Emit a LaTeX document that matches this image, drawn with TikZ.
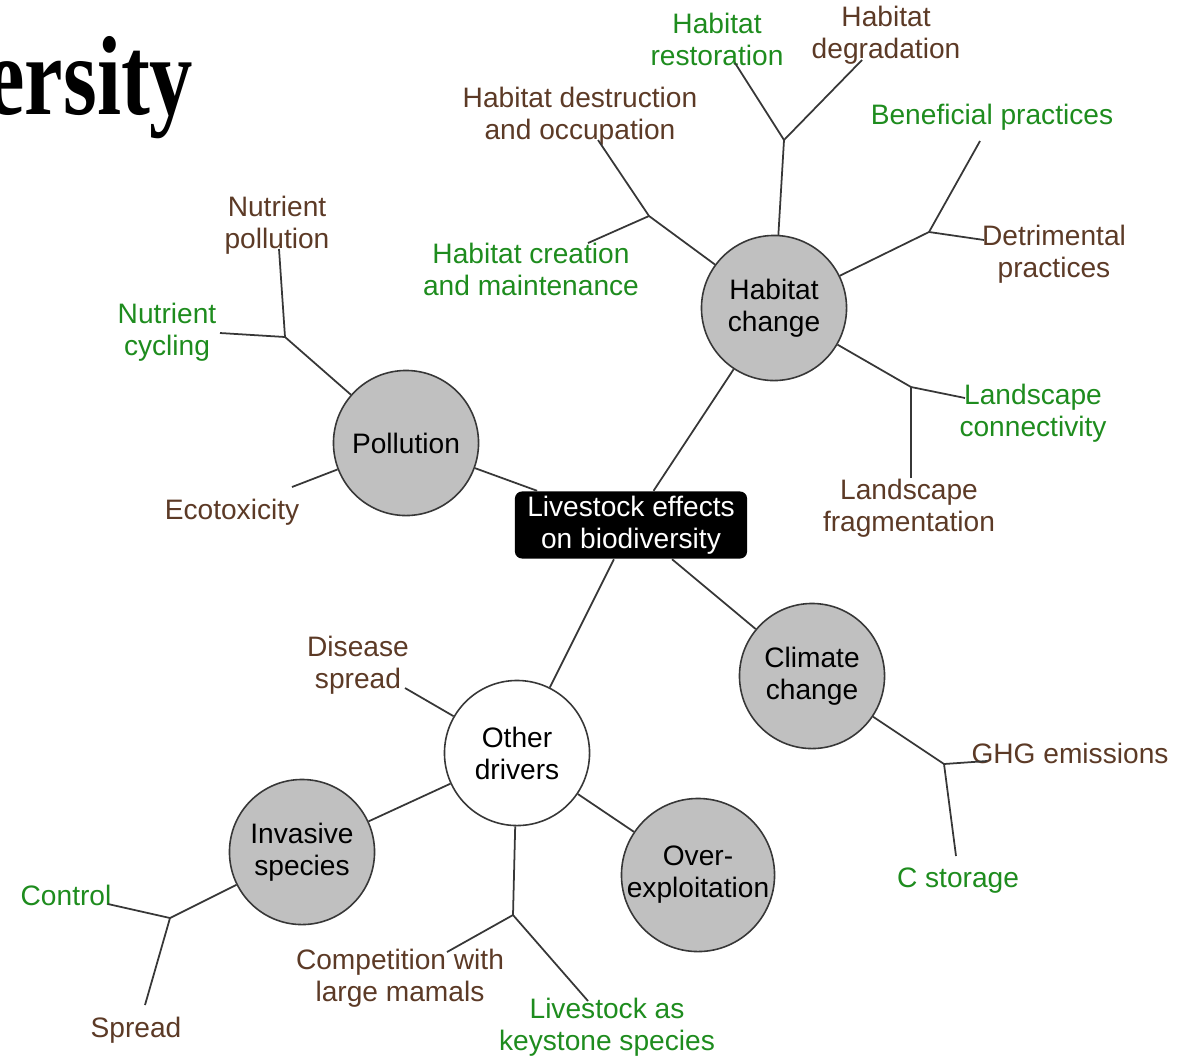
\documentclass[tikz,border=0pt]{standalone}
\usepackage{fontspec}
\setmainfont{Liberation Sans}
\newfontfamily\headfont{Liberation Serif}
\usepackage{xcolor}
\usepackage{graphicx}
\usepackage{tikz}
\definecolor{leafbrown}{RGB}{92,58,38}
\definecolor{leafgreen}{RGB}{30,140,30}
\definecolor{topicgray}{RGB}{192,192,192}
\definecolor{linegray}{RGB}{55,55,55}

\begin{document}
\begin{tikzpicture}[x=0.01cm, y=-0.01cm,
    every node/.style={font=\fontsize{8}{9.1}\selectfont, align=center, inner sep=0pt},
    topic/.style={circle, draw=linegray, line width=0.45pt, fill=topicgray, minimum size=1.45cm},
    hub/.style={rounded corners=0.07cm, fill=black, text=white, minimum width=2.32cm, minimum height=0.67cm},
    pro/.style={text=leafgreen},
    con/.style={text=leafbrown},
    link/.style={draw=linegray, line width=0.5pt}]
    \useasboundingbox (0,0) rectangle (1192,1057);

    \node[anchor=base east, font=\headfont\bfseries\fontsize{32}{32}\selectfont] (title) at (194,114) {\scalebox{0.77}[1]{ersity}};

    % hub and main topics
    \node[hub] (hub) at (631,525) {Livestock effects\\on biodiversity};
    \node[topic] (hab) at (774,308) {Habitat\\change};
    \node[topic] (pol) at (406,443) {Pollution};
    \node[topic] (cli) at (812,676) {Climate\\change};
    \node[topic, fill=white] (oth) at (517,753) {Other\\drivers};
    \node[topic] (inv) at (302,852) {Invasive\\species};
    \node[topic] (ovr) at (698,875) {Over-\\exploitation};

    % leaves
    \node[pro] (rest) at (717,39)  {Habitat\\restoration};
    \node[con] (degr) at (886,35)  {Habitat\\degradation};
    \node[con] (dest) at (580,116) {Habitat destruction\\and occupation};
    \node[pro] (crea) at (531,269) {Habitat creation\\and maintenance};
    \node[pro] (bene) at (992,117) {Beneficial practices};
    \node[con] (detr) at (1054,254) {Detrimental\\practices};
    \node[pro] (conn) at (1033,413) {Landscape\\connectivity};
    \node[con] (frag) at (909,508) {Landscape\\fragmentation};
    \node[con] (npol) at (277,225) {Nutrient\\pollution};
    \node[pro] (ncyc) at (167,332) {Nutrient\\cycling};
    \node[con] (ecot) at (232,512) {Ecotoxicity};
    \node[con] (ghg)  at (1070,753) {GHG emissions};
    \node[pro] (csto) at (958,881) {C storage};
    \node[con] (dise) at (358,665) {Disease\\spread};
    \node[con] (comp) at (400,978) {Competition with\\large mamals};
    \node[pro] (keys) at (607,1027) {Livestock as\\keystone species};
    \node[pro] (cont) at (66,895)  {Control};
    \node[con] (spre) at (136,1030) {Spread};

    % junctions and line ends
    \coordinate (jHabUp) at (784,140);
    \coordinate (eRest) at (735,63);
    \coordinate (eDegr) at (862,60);
    \coordinate (jHabL) at (649,216);
    \coordinate (eDest) at (598,140);
    \coordinate (eCrea) at (588,243);
    \coordinate (jHabR) at (929,232);
    \coordinate (eBene) at (980,141);
    \coordinate (eDetr) at (984,240);
    \coordinate (jHabD) at (911,387);
    \coordinate (eConn) at (965,398);
    \coordinate (eFrag) at (911,478);
    \coordinate (jPol) at (285,337);
    \coordinate (eNpol) at (279,249);
    \coordinate (eNcyc) at (220,333);
    \coordinate (eEcot) at (292,487);
    \coordinate (jCli) at (944,764);
    \coordinate (eGhg) at (987,761);
    \coordinate (eCsto) at (956,856);
    \coordinate (eDise) at (405,688);
    \coordinate (jOth) at (513,915);
    \coordinate (eComp) at (447,952);
    \coordinate (eKeys) at (588,1001);
    \coordinate (jInv) at (170,918);
    \coordinate (eCont) at (108,904);
    \coordinate (eSpre) at (145,1005);

    % connectors
    \foreach \t in {hab,pol,cli,oth}
        \draw[link] (hub) -- (\t);
    \draw[link] (hab) -- (jHabUp) -- (eRest);
    \draw[link] (jHabUp) -- (eDegr);
    \draw[link] (hab) -- (jHabL) -- (eDest);
    \draw[link] (jHabL) -- (eCrea);
    \draw[link] (hab) -- (jHabR) -- (eBene);
    \draw[link] (jHabR) -- (eDetr);
    \draw[link] (hab) -- (jHabD) -- (eConn);
    \draw[link] (jHabD) -- (eFrag);
    \draw[link] (pol) -- (jPol) -- (eNpol);
    \draw[link] (jPol) -- (eNcyc);
    \draw[link] (pol) -- (eEcot);
    \draw[link] (cli) -- (jCli) -- (eGhg);
    \draw[link] (jCli) -- (eCsto);
    \draw[link] (oth) -- (eDise);
    \draw[link] (oth) -- (inv);
    \draw[link] (oth) -- (ovr);
    \draw[link] (oth) -- (jOth) -- (eComp);
    \draw[link] (jOth) -- (eKeys);
    \draw[link] (inv) -- (jInv) -- (eCont);
    \draw[link] (jInv) -- (eSpre);
\end{tikzpicture}
\end{document}
